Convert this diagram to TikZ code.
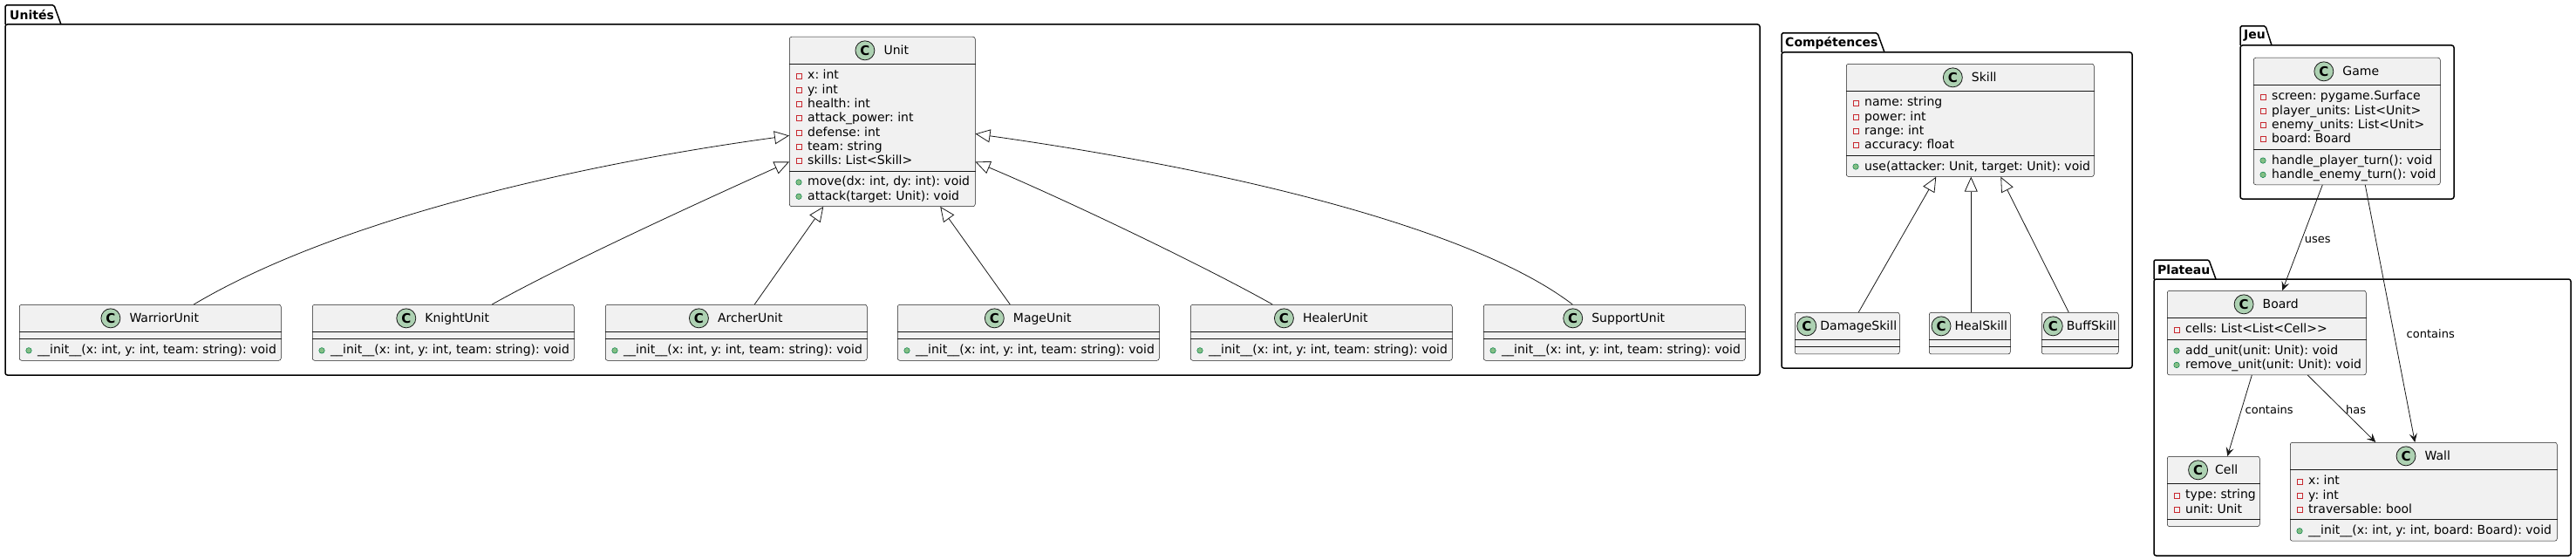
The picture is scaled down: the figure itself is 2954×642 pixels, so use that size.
\documentclass[tikz,border=0pt]{standalone}
\usepackage{fontspec}
\setmainfont{DejaVu Sans}
\usetikzlibrary{arrows.meta}
\frenchspacing

\definecolor{boxfill}{HTML}{F1F1F1}
\definecolor{boxline}{HTML}{181818}
\definecolor{spotfill}{HTML}{ADD1B2}
\definecolor{privred}{HTML}{C82930}
\definecolor{pubfill}{HTML}{84BE84}
\definecolor{publine}{HTML}{038048}

\tikzset{
  classbox/.style={draw=boxline, line width=0.5pt, fill=boxfill, rounded corners=2.5pt, anchor=north west, inner sep=0pt},
  divider/.style={draw=boxline, line width=0.5pt},
  classtitle/.style={inner sep=0pt, text height=10pt, text depth=0pt, font=\fontsize{14}{16}\selectfont},
  spot/.style={circle, draw=boxline, line width=0.8pt, fill=spotfill, minimum size=22pt, inner sep=0pt, font=\fontsize{15}{16}\selectfont\bfseries},
  member/.style={anchor=base west, inner sep=0pt, font=\fontsize{14}{16}\selectfont},
  privicon/.style={draw=privred, line width=0.7pt, minimum size=6pt, inner sep=0pt},
  pubicon/.style={circle, draw=publine, line width=0.5pt, fill=pubfill, minimum size=6.5pt, inner sep=0pt},
  pkg/.style={draw=black, line width=1.5pt, rounded corners=2.5pt},
  pkgtab/.style={anchor=west, inner sep=0pt, font=\fontsize{14}{16}\selectfont\bfseries},
  inherit/.style={draw=boxline, line width=0.8pt, -{Triangle[open, length=17pt, width=15pt]}},
  assoc/.style={draw=boxline, line width=0.8pt, -{Stealth[length=10pt, width=9pt, inset=4pt]}},
  edgelabel/.style={font=\fontsize{13}{15}\selectfont, inner sep=0pt, anchor=west}
}

\newcommand\spotgap{10}
\newcommand{\umlclass}[9]{%
  \pgfmathsetmacro\clsh{47.7+16.3*(#6+#8)}
  \pgfmathsetmacro\clsdiv{31.7+8+16.3*#6}
  \node[classbox, minimum width=#4pt, minimum height=\clsh pt] (#1) at (#2,#3) {};
  \node[classtitle, label={[spot, label distance=\spotgap pt]left:C}] (#1-title) at ([xshift={(22+\spotgap)/2}, yshift=-15.85pt]#1.north) {#5};
  \draw[divider] ([yshift=-31.7pt]#1.north west) -- ([yshift=-31.7pt]#1.north east);
  \draw[divider] ([yshift=-\clsdiv pt]#1.north west) -- ([yshift=-\clsdiv pt]#1.north east);
  \ifnum#6>0
    \foreach \m [count=\i from 0] in {#7} {
      \node[privicon] at ([xshift=11pt, yshift={-(44.85+16.3*\i)}]#1.north west) {};
      \node[member] at ([xshift=21pt, yshift={-(48.85+16.3*\i)}]#1.north west) {\m};
    }
  \fi
  \ifnum#8>0
    \foreach \m [count=\i from 0] in {#9} {
      \node[pubicon] at ([xshift=11pt, yshift={-(\clsdiv+13.15+16.3*\i)}]#1.north west) {};
      \node[member] at ([xshift=21pt, yshift={-(\clsdiv+17.15+16.3*\i)}]#1.north west) {\m};
    }
  \fi
}

\begin{document}
\begin{tikzpicture}[x=1pt, y=-1pt]
    \useasboundingbox (0,0) rectangle (2954,642);

    \draw[pkg] (6,28) rectangle (2018,430);
    \draw[pkg, rounded corners=1.5pt] (6,28) -- (6,6) -- (62,6) -- (70,28);
    \node[pkgtab] (unites) at (11,17) {Unités};

    \draw[pkg] (2043,60) rectangle (2445,422);
    \draw[pkg, rounded corners=1.5pt] (2043,60) -- (2043,38) -- (2153,38) -- (2161,60);
    \node[pkgtab] (competences) at (2047,49) {Compétences};

    \draw[pkg] (2569,52) rectangle (2814,228);
    \draw[pkg, rounded corners=1.5pt] (2569,52) -- (2569,30) -- (2598,30) -- (2605,52);
    \node[pkgtab] (jeu) at (2573,41) {Jeu};

    \draw[pkg] (2470,320) rectangle (2948,637);
    \draw[pkg, rounded corners=1.5pt] (2470,320) -- (2470,298) -- (2533,298) -- (2541,320);
    \node[pkgtab] (plateau) at (2474,309) {Plateau};

    \umlclass{unit}{905}{42}{213}{Unit}{7}{x: int, y: int, health: int, attack\_power: int, defense: int, team: string, skills: List<Skill>}{2}{{move(dx: int, dy: int): void}, {attack(target: Unit): void}}
    \umlclass{warrior}{22}{349}{300}{WarriorUnit}{0}{}{1}{{\_\_init\_\_(x: int, y: int, team: string): void}}
    \umlclass{knight}{358}{349}{300}{KnightUnit}{0}{}{1}{{\_\_init\_\_(x: int, y: int, team: string): void}}
    \umlclass{archer}{694}{349}{300}{ArcherUnit}{0}{}{1}{{\_\_init\_\_(x: int, y: int, team: string): void}}
    \umlclass{mage}{1029}{349}{300}{MageUnit}{0}{}{1}{{\_\_init\_\_(x: int, y: int, team: string): void}}
    \umlclass{healer}{1365}{349}{300}{HealerUnit}{0}{}{1}{{\_\_init\_\_(x: int, y: int, team: string): void}}
    \umlclass{support}{1701}{349}{300}{SupportUnit}{0}{}{1}{{\_\_init\_\_(x: int, y: int, team: string): void}}

    \umlclass{skill}{2117}{73}{284}{Skill}{4}{name: string, power: int, range: int, accuracy: float}{1}{{use(attacker: Unit, target: Unit): void}}
    \renewcommand\spotgap{4}
    \umlclass{damage}{2058}{358}{120}{DamageSkill}{0}{}{0}{}
    \umlclass{heal}{2212}{358}{93}{HealSkill}{0}{}{0}{}
    \umlclass{buff}{2341}{358}{88}{BuffSkill}{0}{}{0}{}
    \renewcommand\spotgap{10}

    \umlclass{game}{2584}{66}{214}{Game}{4}{screen: pygame.Surface, player\_units: List<Unit>, enemy\_units: List<Unit>, board: Board}{2}{handle\_player\_turn(): void, handle\_enemy\_turn(): void}
    \umlclass{board}{2485}{333}{228}{Board}{1}{cells: List<List<Cell>{}>}{2}{add\_unit(unit: Unit): void, remove\_unit(unit: Unit): void}
    \renewcommand\spotgap{8}
    \umlclass{cell}{2485}{523}{106}{Cell}{2}{type: string, unit: Unit}{0}{}
    \renewcommand\spotgap{10}
    \umlclass{wall}{2626}{507}{306}{Wall}{3}{x: int, y: int, traversable: bool}{1}{{\_\_init\_\_(x: int, y: int, board: Board): void}}

    \draw[inherit] ([xshift=50pt]warrior.north) .. controls +(158,-94) and +(-256,35) .. ([yshift=-16pt]unit.west);
    \draw[inherit] ([xshift=56pt]knight.north) .. controls +(80,-45) and +(-100,45) .. ([yshift=-46pt]unit.west);
    \draw[inherit] ([xshift=21pt]archer.north) -- ([xshift=-67.5pt]unit.south);
    \draw[inherit] ([xshift=-21pt]mage.north) -- ([xshift=66.5pt]unit.south);
    \draw[inherit] ([xshift=-56pt]healer.north) .. controls +(-80,-45) and +(100,42) .. ([yshift=-46pt]unit.east);
    \draw[inherit] ([xshift=-48pt]support.north) .. controls +(-103,-79) and +(332,47) .. ([yshift=-14pt]unit.east);

    \draw[inherit] ([xshift=13pt]damage.north) -- ([xshift=-39pt]skill.south);
    \draw[inherit] ([xshift=1.5pt]heal.north) -- ([xshift=1pt]skill.south);
    \draw[inherit] ([xshift=-13pt]buff.north) -- ([xshift=35pt]skill.south);

    \draw[assoc] ([xshift=-28pt]game.south) -- ([xshift=18pt]board.north) node[edgelabel, pos=0.52, xshift=3pt] {uses};
    \draw[assoc] ([xshift=21pt]game.south) -- ([xshift=-10pt]wall.north) node[edgelabel, pos=0.58, xshift=14pt] {contains};
    \draw[assoc] ([xshift=-17pt]board.south) -- ([xshift=16pt]cell.north) node[edgelabel, pos=0.43, xshift=4pt] {contains};
    \draw[assoc] ([xshift=47pt]board.south) -- ([xshift=-55pt]wall.north) node[edgelabel, pos=0.52, xshift=3pt] {has};

\end{tikzpicture}
\end{document}
